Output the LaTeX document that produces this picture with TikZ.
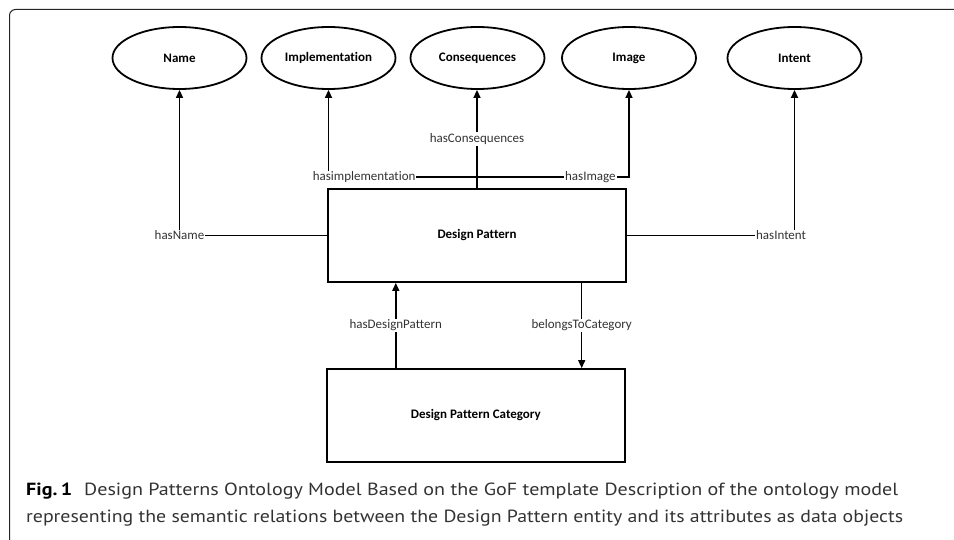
\documentclass[tikz,border=0pt]{standalone}
\usepackage{fontspec}
\usepackage{graphicx}
\setmainfont{Carlito}[Ligatures=NoCommon]
\newfontfamily\capfont{PT Sans}
\usetikzlibrary{arrows.meta,shapes.geometric}

\tikzset{
  attr/.style={ellipse, draw, line width=1.8pt, minimum width=134pt, minimum height=62pt,
    inner sep=0pt, font=\fontsize{13}{15}\selectfont\bfseries},
  entity/.style={rectangle, draw, line width=1.8pt, minimum width=298pt, minimum height=93pt,
    inner sep=0pt, font=\fontsize{13}{15}\selectfont\bfseries},
  rel/.style={line width=1.5pt, -{Triangle[length=8pt,width=7pt]}},
  lbl/.style={fill=white, inner sep=1pt, text=black!80, font=\fontsize{13}{15}\selectfont},
}

\begin{document}
\begin{tikzpicture}[x=1pt,y=-1pt]
\useasboundingbox (0,0) rectangle (954,540);

% panel frame
\draw[line width=1pt, black!85, rounded corners=6pt] (9.5,540) -- (9.5,9.5) -- (954,9.5);

% attribute ellipses
\node[attr] (name)  at (179.5,58) {Name};
\node[attr] (impl)  at (328.5,58) {Implementation};
\node[attr] (cons)  at (477.5,58) {Consequences};
\node[attr] (image) at (629,58)   {Image};
\node[attr] (intent) at (794.5,58) {Intent};

% entities
\node[entity] (dp)  at (477,235.5) {Design Pattern};
\node[entity] (cat) at (475.8,415.5) {Design Pattern Category};

% relations from the Design Pattern entity to its attributes
\draw[rel] (dp.west) -| node[lbl,pos=0.5] {hasName} (name.south);
\draw[rel] (dp.east) -| node[lbl,pos=0.46] {hasIntent} (intent.south);
\draw[rel] (dp.north) -- (dp.north |- cons.south)
  node[lbl,midway] {hasConsequences};
\draw[rel] (dp.north) -- ++(0,-11) -| node[lbl,pos=0.38] {hasimplementation} (impl.south);
\draw[rel] (dp.north) -- ++(0,-11) -| node[lbl,pos=0.373] {hasImage} (image.south);

% relations between the two entities
\draw[rel] ([xshift=-80pt]cat.north) -- ([xshift=-80pt]cat.north |- dp.south)
  node[lbl,midway] {hasDesignPattern};
\draw[rel] ([xshift=104.7pt]dp.south) -- ([xshift=104.7pt]dp.south |- cat.north)
  node[lbl,midway] {belongsToCategory};

% caption
\node[anchor=base west, inner sep=0pt, text=black!80] (cap1) at (26,495)
  {\resizebox{872pt}{\height}{\capfont\fontsize{17.6}{20}\selectfont
   {\color{black}\bfseries Fig.\,1}\hspace{0.6em}Design Patterns Ontology Model Based on the GoF template Description of the ontology model}};
\node[anchor=base west, inner sep=0pt, text=black!80] (cap2) at (26,522.5)
  {\resizebox{877pt}{\height}{\capfont\fontsize{17.6}{20}\selectfont
   representing the semantic relations between the Design Pattern entity and its attributes as data objects}};
\end{tikzpicture}
\end{document}
